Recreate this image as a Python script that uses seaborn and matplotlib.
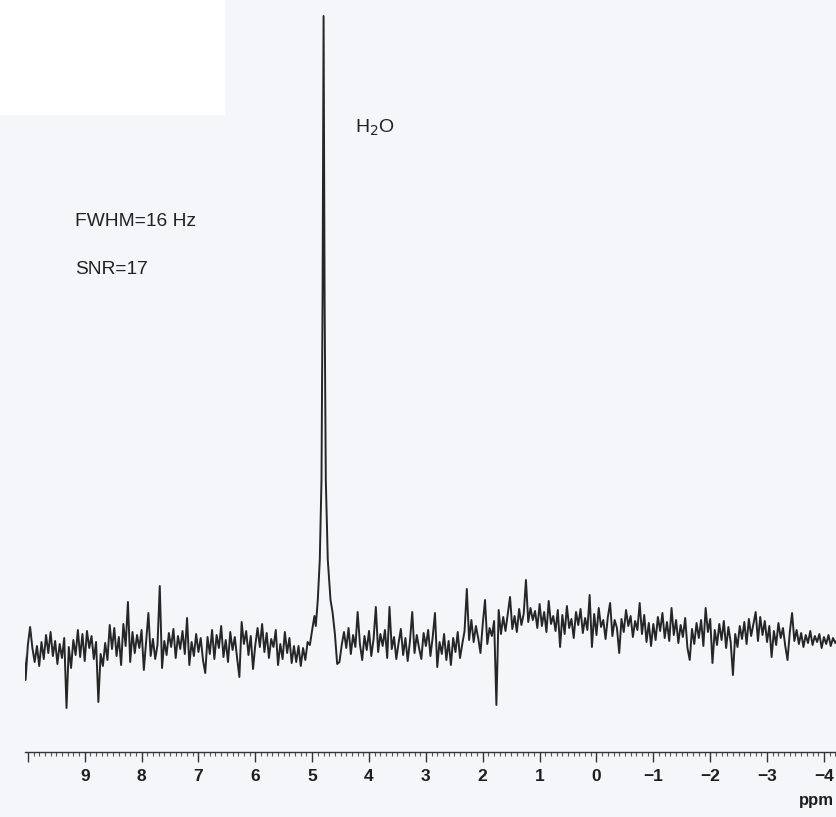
import numpy as np
import pandas as pd
import matplotlib
matplotlib.use("Agg")
import matplotlib.pyplot as plt
import seaborn as sns
from matplotlib.patches import Rectangle

# spectrum (intensity in arbitrary units, baseline ~0)
# left part: 10.08 -> 4.96 ppm, 0.04 ppm steps
left_int = [
    1.0, -3.0, 0.5, 2.3, 0.2, -1.2, 0.4, -1.6, 0.8, -0.9,
    1.5, -0.3, 1.8, -0.6, 0.9, -1.4, 0.6, -0.8, 1.2, -5.8,
    0.3, -1.8, 1.0, -0.5, 2.0, -0.7, 1.6, -1.1, 1.9, 0.2,
    1.4, -0.9, 0.8, -5.2, -0.4, -1.6, 0.7, -1.0, 2.5, 0.1,
    2.2, -0.6, 1.3, -1.5, 2.6, 0.4, 4.8, -1.2, 1.8, -0.3,
    1.5, 0.2, 2.0, -2.0, 0.8, 3.7, -0.6, 1.1, -0.9, 0.5,
    6.4, -1.8, 0.9, -0.5, 1.7, 0.3, 2.1, -0.8, 1.4, 0.1,
    1.9, -0.4, 3.2, -1.5, 0.8, -0.6, 1.6, -0.2, 1.2, -1.0,
    -2.3, 1.3, -0.4, 2.0, -0.9, 1.5, 0.2, 2.4, -0.7, 1.0,
    -1.2, 1.8, 0.0, 1.3, -0.8, -2.7, 2.8, 0.6, 1.9, -0.5,
    1.4, -1.9, 0.5, 2.2, 0.3, 2.6, -0.2, 1.7, -0.8, 1.1,
    0.3, 2.0, -1.5, 0.6, -0.9, 1.8, -0.3, 1.2, -1.3, 0.4,
    -1.2, 0.4, -1.6, 0.2, -1.0, 0.8, 0.5, 2.0, 3.4,
]
left_range = (10.08, 4.96)

# water line, explicit points
peak_ppm = [4.936, 4.901, 4.866, 4.836, 4.817, 4.799, 4.781, 4.760, 4.725, 4.677, 4.642]
peak_int = [2.4, 5.0, 9.0, 17.0, 35.0, 63.4, 35.0, 17.0, 9.0, 5.0, 3.8]

# right part: 4.60 -> -4.24 ppm, 0.04 ppm steps
right_int = [
    1.6, -1.4, -1.2, 0.5, 1.8, 0.2, 2.2, -0.4, 1.5, 0.3,
    3.8, 0.6, -1.0, 1.4, 0.0, 1.9, -0.6, 1.1, 4.3, -0.2,
    1.6, 0.4, 2.0, -0.8, 4.3, 0.1, 1.3, -0.9, 0.7, 2.1,
    -0.5, 1.2, -1.1, 0.9, 3.8, -0.3, 1.5, 0.2, -0.9, 1.7,
    0.4, 2.0, -0.6, 1.3, 3.7, -1.7, 0.8, -0.4, 1.6, -1.0,
    0.9, -1.5, 1.2, -0.2, 1.8, -0.8, 0.6, 1.9, 6.1, 1.0,
    3.0, 0.8, 2.4, 1.2, -0.3, 2.6, 5.0, 0.6, 2.2, 1.4,
    2.9, -5.5, 4.0, 1.6, 3.3, 1.9, 3.6, 5.3, 2.1, 3.4,
    1.8, 4.1, 2.5, 3.6, 7.0, 2.8, 4.2, 3.0, 3.9, 2.2,
    4.6, 2.4, 3.8, 1.8, 4.9, 2.6, 3.4, 1.9, 4.0, 0.3,
    3.5, 1.6, 4.4, 2.2, 3.1, 1.2, 3.8, 2.5, 4.1, 1.7,
    3.2, 2.0, 5.5, 0.3, 3.6, 1.5, 4.2, 2.3, 3.0, 1.1,
    3.3, 4.7, 1.4, 3.0, 2.2, -0.3, 3.1, 1.8, 4.0, 2.4,
    3.4, 1.3, 2.9, 2.0, 4.7, 1.6, 3.5, 0.8, 2.7, 0.4,
    2.6, 1.0, 3.3, 1.9, 3.7, 1.2, 2.8, 0.9, 4.2, 1.5,
    3.0, 0.7, 2.5, 1.3, 3.2, 0.2, -1.0, 2.1, 0.6, 2.7,
    1.2, 3.0, 0.4, 4.2, 1.8, 3.1, -1.3, 2.0, 0.5, 2.6,
    1.0, 2.9, 0.2, 2.3, 0.8, -2.5, 1.6, 0.3, 2.4, 1.1,
    2.8, 0.6, 3.1, 1.4, 2.6, 3.8, 0.9, 3.3, 1.5, 2.9,
    0.8, 2.4, -0.7, 1.9, 0.5, 2.7, 1.2, 2.2, 0.4, -1.0,
    1.8, 3.7, 0.9, 2.0, 0.6, 1.7, 0.3, 1.5, 0.7, 1.9,
    0.5, 1.4, 0.8, 1.6, 0.2, 1.3, 0.6, 1.5, 0.4, 1.2,
    0.7, 1.1,
]
right_range = (4.60, -4.24)

major_ticks = [10, 9, 8, 7, 6, 5, 4, 3, 2, 1, 0, -1, -2, -3, -4]
tick_labels = ['', '9', '8', '7', '6', '5', '4', '3', '2', '1', '0',
               '\u22121', '\u22122', '\u22123', '\u22124']

ppm = np.concatenate([
    np.linspace(left_range[0], left_range[1], len(left_int)),
    peak_ppm,
    np.linspace(right_range[0], right_range[1], len(right_int)),
])
intensity = np.concatenate([left_int, peak_int, right_int])
df = pd.DataFrame({'ppm': ppm, 'intensity': intensity})

sns.set_style('white')
plt.rcParams['font.family'] = ['Liberation Sans', 'DejaVu Sans']

fig = plt.figure(figsize=(8.37, 8.17), dpi=100)
fig.patch.set_facecolor('#f4f6f9')
# white patch of the scan in the top-left corner
fig.patches.append(Rectangle((0, 1 - 115 / 817), 225 / 837, 115 / 817,
                             transform=fig.transFigure, facecolor='white',
                             edgecolor='none', zorder=0))

ax = fig.add_axes([25 / 837, 65 / 817, 812 / 837, 752 / 817])
ax.patch.set_alpha(0)

sns.lineplot(data=df, x='ppm', y='intensity', ax=ax, estimator=None,
             sort=True, color='#262626', linewidth=1.4)

ax.set_xlim(10.05, -4.23)
ax.set_ylim(-10.2, 65)
ax.set_xticks(major_ticks)
ax.set_xticklabels(tick_labels, fontsize=12.5, fontweight='bold', color='#1e1e1e')
ax.set_xticks(np.arange(-4.2, 10.05, 0.1), minor=True)
ax.tick_params(axis='x', which='major', direction='out', length=7, width=1,
               color='#333333', pad=5, bottom=True)
ax.tick_params(axis='x', which='minor', direction='out', length=3, width=0.8,
               color='#555555', bottom=True)
ax.set_yticks([])
ax.set_xlabel('')
ax.set_ylabel('')
for side in ['left', 'top', 'right']:
    ax.spines[side].set_visible(False)
ax.spines['bottom'].set_color('#333333')
ax.spines['bottom'].set_linewidth(1.0)

fig.text(355 / 837, 1 - 128 / 817, 'H$_2$O', fontsize=14, color='#222222',
         ha='left', va='center')
fig.text(75 / 837, 1 - 222 / 817, 'FWHM=16 Hz', fontsize=13.8, color='#222222',
         ha='left', va='center')
fig.text(75 / 837, 1 - 270 / 817, 'SNR=17', fontsize=13.8, color='#222222',
         ha='left', va='center')
fig.text(816 / 837, 1 - 800 / 817, 'ppm', fontsize=12, fontweight='bold',
         color='#1e1e1e', ha='center', va='center')

fig.savefig('out.png', dpi=100, facecolor=fig.get_facecolor())
